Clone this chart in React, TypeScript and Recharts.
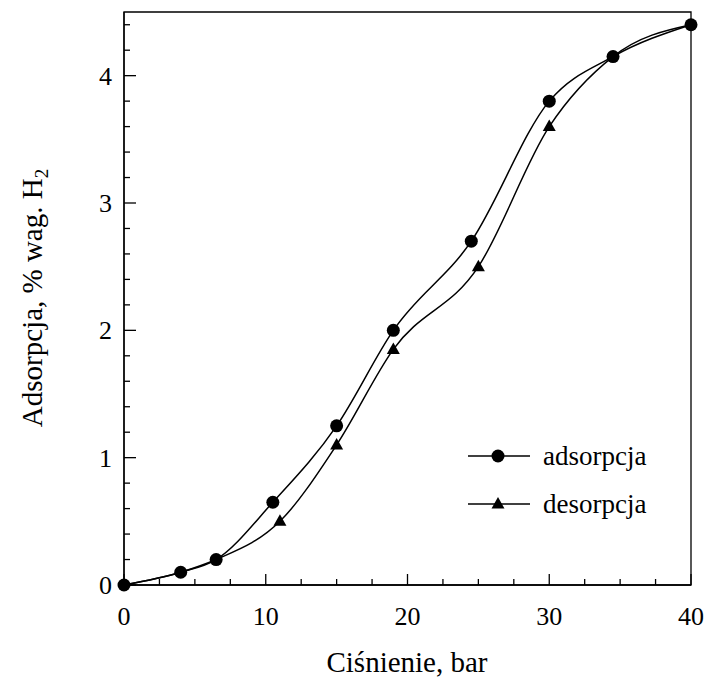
import React from 'react';
import { LineChart, Line, XAxis, YAxis, Legend, ReferenceArea, Label } from 'recharts';

const pressureAds = [0, 4, 6.5, 10.5, 15, 19, 24.5, 30, 34.5, 40];
const adsorpcja = [0, 0.1, 0.2, 0.65, 1.25, 2.0, 2.7, 3.8, 4.15, 4.4];
const pressureDes = [0, 4, 6.5, 11, 15, 19, 25, 30, 34.5, 40];
const desorpcja = [0, 0.1, 0.2, 0.5, 1.1, 1.85, 2.5, 3.6, 4.15, 4.4];

const xMajor = [0, 10, 20, 30, 40];
const xMinor = [2.5, 5, 7.5, 12.5, 15, 17.5, 22.5, 25, 27.5, 32.5, 35, 37.5];
const yMajor = [0, 1, 2, 3, 4];
const yMinor = [0.2, 0.4, 0.6, 0.8, 1.2, 1.4, 1.6, 1.8, 2.2, 2.4, 2.6, 2.8, 3.2, 3.4, 3.6, 3.8, 4.2, 4.4];

const xTitle = 'Ciśnienie, bar';
const yTitle = 'Adsorpcja, % wag. H';
const yTitleSub = '2';

const adsData = pressureAds.map((p, i) => ({ p, v: adsorpcja[i] }));
const desData = pressureDes.map((p, i) => ({ p, v: desorpcja[i] }));
const hideDes = pressureDes.map((p, i) => p === pressureAds[i] && desorpcja[i] === adsorpcja[i]);

const FONT = '"Liberation Serif", "Times New Roman", serif';

const XTick = (props: any) => {
  const { x, y, payload } = props;
  const major = xMajor.includes(payload.value);
  return (
    <g>
      <line x1={x} x2={x} y1={y} y2={y - (major ? 11 : 6)} stroke="#000" strokeWidth={1.3} />
      {major && (
        <text x={x} y={y + 40} textAnchor="middle" fontSize={26} fontFamily={FONT} fill="#000">
          {payload.value}
        </text>
      )}
    </g>
  );
};

const YTick = (props: any) => {
  const { x, y, payload } = props;
  const major = yMajor.includes(payload.value);
  return (
    <g>
      <line x1={x} x2={x + (major ? 12 : 6)} y1={y} y2={y} stroke="#000" strokeWidth={1.3} />
      {major && (
        <text x={x - 12} y={y} dy="0.35em" textAnchor="end" fontSize={26} fontFamily={FONT} fill="#000">
          {payload.value}
        </text>
      )}
    </g>
  );
};

const Circle = (props: any) => {
  const { cx, cy } = props;
  return <circle cx={cx} cy={cy} r={6.5} fill="#000" stroke="none" />;
};

const Tri = (props: any) => {
  const { cx, cy, index } = props;
  if (hideDes[index]) return <g />;
  return <path d={`M${cx},${cy - 7} L${cx + 6.5},${cy + 4.5} L${cx - 6.5},${cy + 4.5} Z`} fill="#000" />;
};

const LegendContent = (props: any) => {
  const names = ['adsorpcja', 'desorpcja'];
  return (
    <svg width={200} height={95} style={{ overflow: 'visible', display: 'block' }}>
      {names.map((n, i) => {
        const y = 21 + i * 48;
        return (
          <g key={n}>
            <line x1={13} x2={75} y1={y} y2={y} stroke="#000" strokeWidth={1.5} />
            {i === 0 ? (
              <circle cx={43} cy={y} r={6.5} fill="#000" />
            ) : (
              <path d={`M43,${y - 7} L49.5,${y + 4.5} L36.5,${y + 4.5} Z`} fill="#000" />
            )}
            <text x={88} y={y + 9} fontSize={27} fontFamily={FONT} fill="#000">
              {n}
            </text>
          </g>
        );
      })}
    </svg>
  );
};

export default function App() {
  return (
    <div style={{ position: 'absolute', left: 8, top: 8 }}>
      <LineChart
        width={698}
        height={672}
        margin={{ top: 4, right: 15, bottom: 0, left: 0 }}
        style={{ fontFamily: FONT }}
      >
        <XAxis
          dataKey="p"
          type="number"
          domain={[0, 40]}
          ticks={[...xMajor, ...xMinor].sort((a, b) => a - b)}
          interval={0}
          tick={XTick}
          tickLine={false}
          tickSize={0}
          tickMargin={0}
          height={95}
          axisLine={{ stroke: '#000', strokeWidth: 1.3 }}
          allowDuplicatedCategory={false}
        >
          <Label
            content={() => (
              <text x={399} y={664} textAnchor="middle" fontSize={29} fontFamily={FONT} fill="#000">
                {xTitle}
              </text>
            )}
          />
        </XAxis>
        <YAxis
          type="number"
          domain={[0, 4.5]}
          ticks={[...yMajor, ...yMinor].sort((a, b) => a - b)}
          interval={0}
          tick={YTick}
          tickLine={false}
          tickSize={0}
          tickMargin={0}
          width={116}
          axisLine={{ stroke: '#000', strokeWidth: 1.3 }}
        >
          <Label
            content={() => (
              <text
                x={34}
                y={290}
                transform="rotate(-90 34 290)"
                textAnchor="middle"
                fontSize={29}
                fontFamily={FONT}
                fill="#000"
              >
                {yTitle}
                <tspan fontSize={19} dy={6}>{yTitleSub}</tspan>
              </text>
            )}
          />
        </YAxis>
        <ReferenceArea x1={0} x2={40} y1={0} y2={4.5} fill="none" stroke="#000" strokeWidth={1.3} ifOverflow="visible" />
        <Legend
          content={LegendContent}
          wrapperStyle={{ position: 'absolute', left: 447, top: 427, width: 0, height: 0, overflow: 'visible' }}
        />
        <Line
          data={desData}
          dataKey="v"
          name="desorpcja"
          type="monotone"
          stroke="#000"
          strokeWidth={1.5}
          dot={Tri}
          activeDot={false}
          isAnimationActive={false}
        />
        <Line
          data={adsData}
          dataKey="v"
          name="adsorpcja"
          type="monotone"
          stroke="#000"
          strokeWidth={1.5}
          dot={Circle}
          activeDot={false}
          isAnimationActive={false}
        />
      </LineChart>
    </div>
  );
}
